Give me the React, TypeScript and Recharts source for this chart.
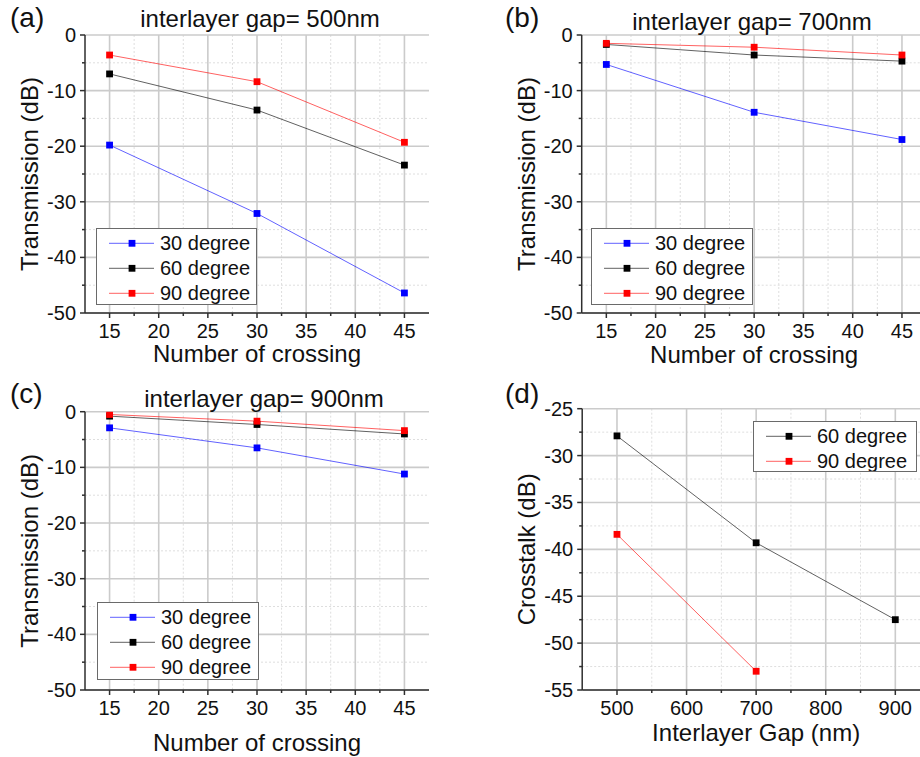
import React from 'react';
import { LineChart, Line, XAxis, YAxis, CartesianGrid, Legend, Label } from 'recharts';

// ---------- data ----------
const crossings = [15, 30, 45];
const gap500_30 = [-19.8, -32.1, -46.4];
const gap500_60 = [-7.0, -13.5, -23.4];
const gap500_90 = [-3.6, -8.4, -19.3];
const gap700_30 = [-5.3, -13.9, -18.8];
const gap700_60 = [-1.7, -3.6, -4.7];
const gap700_90 = [-1.5, -2.2, -3.6];
const gap900_30 = [-2.9, -6.5, -11.2];
const gap900_60 = [-0.8, -2.3, -4.0];
const gap900_90 = [-0.5, -1.7, -3.4];
const gaps = [500, 700, 900];
const crosstalk_60 = [-27.9, -39.3, -47.5];
const crosstalk_90: (number | null)[] = [-38.4, -53.0, null];

// ---------- ticks ----------
const crossMajor = [15, 20, 25, 30, 35, 40, 45];
const crossMinor = [17.5, 22.5, 27.5, 32.5, 37.5, 42.5];
const transMajor = [0, -10, -20, -30, -40, -50];
const transMinor = [-5, -15, -25, -35, -45];
const gapMajor = [500, 600, 700, 800, 900];
const gapMinor = [550, 650, 750, 850];
const xtMajor = [-25, -30, -35, -40, -45, -50, -55];
const xtMinor = [-27.5, -32.5, -37.5, -42.5, -47.5, -52.5];

const titles = ['interlayer gap= 500nm', 'interlayer gap= 700nm', 'interlayer gap= 900nm'];
const panelTags = ['(a)', '(b)', '(c)', '(d)'];

type Series = { key: string; name: string; color: string };
const series3: Series[] = [
  { key: 's30', name: '30 degree', color: '#0000ff' },
  { key: 's60', name: '60 degree', color: '#000000' },
  { key: 's90', name: '90 degree', color: '#ff0000' },
];
const series2: Series[] = [
  { key: 's60', name: '60 degree', color: '#000000' },
  { key: 's90', name: '90 degree', color: '#ff0000' },
];

const buildTrans = (a: number[], b: number[], c: number[]) =>
  crossings.map((x, i) => ({ x, s30: a[i], s60: b[i], s90: c[i] }));
const dataA = buildTrans(gap500_30, gap500_60, gap500_90);
const dataB = buildTrans(gap700_30, gap700_60, gap700_90);
const dataC = buildTrans(gap900_30, gap900_60, gap900_90);
const dataD = gaps.map((x, i) => ({ x, s60: crosstalk_60[i], s90: crosstalk_90[i] }));

// ---------- styles ----------
const FONT = '"Liberation Sans", Arial, Helvetica, sans-serif';
const FRAME = '#2e2e2e';
const TEXT = '#111111';
const LINE_OPACITY = 0.62;
const MARK = 6.8;

const makeXTick = (major: number[], showLabel: boolean) => (props: any) => {
  const { x, y, payload } = props;
  const isMajor = major.includes(payload.value);
  const len = isMajor ? 5 : 3;
  return (
    <g>
      <line x1={x} x2={x} y1={y} y2={y + len} stroke={FRAME} strokeWidth={1.5} />
      {showLabel && isMajor && (
        <text x={x} y={y + 25} textAnchor="middle" fontSize={20} fontFamily={FONT} fill={TEXT}>
          {payload.value}
        </text>
      )}
    </g>
  );
};

const makeYTick = (major: number[], showLabel: boolean) => (props: any) => {
  const { x, y, payload } = props;
  const isMajor = major.includes(payload.value);
  const len = isMajor ? 5 : 3;
  return (
    <g>
      <line x1={x} x2={x - len} y1={y} y2={y} stroke={FRAME} strokeWidth={1.5} />
      {showLabel && isMajor && (
        <text x={x - 9} y={y} dy="0.35em" textAnchor="end" fontSize={20} fontFamily={FONT} fill={TEXT}>
          {payload.value}
        </text>
      )}
    </g>
  );
};

const squareDot = (color: string) => (props: any) => {
  const { cx, cy, index } = props;
  if (cx == null || cy == null || Number.isNaN(cy)) return <g key={`n${index}`} />;
  return <rect key={`d${index}`} x={cx - MARK / 2} y={cy - MARK / 2} width={MARK} height={MARK} fill={color} />;
};

type Box = { x: number; y: number; w: number; h: number };

const legendContent = (box: Box) => (props: any) => {
  const payload = props.payload || [];
  return (
    <div style={{ width: box.w, height: box.h, border: '1px solid #6a6a6a', boxSizing: 'border-box', background: '#fff' }}>
      <svg width={box.w - 2} height={box.h - 2} style={{ display: 'block' }}>
        {payload.map((e: any, i: number) => {
          const cy = 14.3 + i * 25;
          return (
            <g key={i}>
              <line x1={12} x2={57} y1={cy} y2={cy} stroke={e.color} strokeOpacity={LINE_OPACITY} strokeWidth={1} />
              <rect x={35 - MARK / 2} y={cy - MARK / 2} width={MARK} height={MARK} fill={e.color} />
              <text x={63} y={cy} dy="0.35em" fontSize={20} fontFamily={FONT} fill={TEXT}>
                {e.value}
              </text>
            </g>
          );
        })}
      </svg>
    </div>
  );
};

type PanelProps = {
  left: number;
  top: number;
  width: number;
  height: number;
  margin: { top: number; right: number; bottom: number; left: number };
  yAxisWidth: number;
  xAxisHeight: number;
  data: any[];
  series: Series[];
  xDomain: [number, number];
  xMajor: number[];
  xMinor: number[];
  yDomain: [number, number];
  yMajor: number[];
  yMinor: number[];
  xLabel: string;
  yLabel: string;
  xLabelDy: number;
  legend: Box;
};

function Panel(p: PanelProps) {
  const axisLine = { stroke: FRAME, strokeWidth: 1.5 };
  const xTicks = [...p.xMajor, ...p.xMinor].sort((a, b) => a - b);
  const yTicks = [...p.yMajor, ...p.yMinor].sort((a, b) => a - b);
  return (
    <div style={{ position: 'absolute', left: p.left, top: p.top, width: p.width, height: p.height }}>
      <LineChart width={p.width} height={p.height} data={p.data} margin={p.margin}>
        <CartesianGrid
          verticalValues={p.xMinor}
          horizontalValues={p.yMinor}
          stroke="#dedede"
          strokeDasharray="2 2"
          strokeWidth={1}
        />
        <CartesianGrid verticalValues={p.xMajor} horizontalValues={p.yMajor} stroke="#cbcbcb" strokeWidth={1.6} />
        <XAxis
          dataKey="x"
          type="number"
          domain={p.xDomain}
          allowDataOverflow
          ticks={xTicks}
          interval={0}
          tickSize={0}
          tickMargin={0}
          tickLine={false}
          axisLine={axisLine}
          height={p.xAxisHeight}
          tick={makeXTick(p.xMajor, true)}
        >
          <Label
            content={(lp: any) => {
              const vb = lp.viewBox;
              return (
                <text x={vb.x + vb.width / 2} y={vb.y + p.xLabelDy} textAnchor="middle" fontSize={24} fontFamily={FONT} fill={TEXT}>
                  {p.xLabel}
                </text>
              );
            }}
          />
        </XAxis>
        <XAxis
          xAxisId="top"
          orientation="top"
          dataKey="x"
          type="number"
          domain={p.xDomain}
          allowDataOverflow
          ticks={xTicks}
          interval={0}
          tickSize={0}
          tickMargin={0}
          tickLine={false}
          axisLine={axisLine}
          height={0}
          tick={makeXTick(p.xMajor, false)}
        />
        <YAxis
          type="number"
          domain={p.yDomain}
          allowDataOverflow
          ticks={yTicks}
          interval={0}
          tickSize={0}
          tickMargin={0}
          tickLine={false}
          axisLine={axisLine}
          width={p.yAxisWidth}
          tick={makeYTick(p.yMajor, true)}
        >
          <Label
            content={(lp: any) => {
              const vb = lp.viewBox;
              const cx = vb.x + vb.width - 47;
              const cy = vb.y + vb.height / 2;
              return (
                <text
                  x={cx}
                  y={cy}
                  transform={`rotate(-90, ${cx}, ${cy})`}
                  textAnchor="middle"
                  fontSize={24}
                  fontFamily={FONT}
                  fill={TEXT}
                >
                  {p.yLabel}
                </text>
              );
            }}
          />
        </YAxis>
        <YAxis
          yAxisId="right"
          orientation="right"
          type="number"
          domain={p.yDomain}
          allowDataOverflow
          ticks={yTicks}
          interval={0}
          tickSize={0}
          tickMargin={0}
          tickLine={false}
          axisLine={axisLine}
          width={0}
          tick={makeYTick(p.yMajor, false)}
        />
        {p.series.map((s) => (
          <Line
            key={s.key}
            type="linear"
            dataKey={s.key}
            name={s.name}
            stroke={s.color}
            strokeOpacity={LINE_OPACITY}
            strokeWidth={1}
            dot={squareDot(s.color)}
            activeDot={false}
            isAnimationActive={false}
          />
        ))}
        <Legend
          layout="vertical"
          align="center"
          verticalAlign="middle"
          content={legendContent(p.legend)}
          wrapperStyle={{ left: p.legend.x, top: p.legend.y, width: p.legend.w, height: p.legend.h }}
        />
      </LineChart>
    </div>
  );
}

export default function App() {
  return (
    <div
      style={{
        position: 'absolute',
        left: 0,
        top: 0,
        width: 920,
        height: 757,
        overflow: 'hidden',
        background: '#ffffff',
      }}
    >
      <Panel
        left={0}
        top={0}
        width={460}
        height={378}
        margin={{ top: 35, right: 31, bottom: 0, left: 0 }}
        yAxisWidth={85}
        xAxisHeight={65}
        data={dataA}
        series={series3}
        xDomain={[12.5, 47.5]}
        xMajor={crossMajor}
        xMinor={crossMinor}
        yDomain={[-50, 0]}
        yMajor={transMajor}
        yMinor={transMinor}
        xLabel="Number of crossing"
        yLabel="Transmission (dB)"
        xLabelDy={49}
        legend={{ x: 96, y: 228, w: 161, h: 77 }}
      />
      <Panel
        left={460}
        top={0}
        width={480}
        height={378}
        margin={{ top: 35, right: 13.4, bottom: 0, left: 0 }}
        yAxisWidth={121.7}
        xAxisHeight={65}
        data={dataB}
        series={series3}
        xDomain={[12.5, 47.5]}
        xMajor={crossMajor}
        xMinor={crossMinor}
        yDomain={[-50, 0]}
        yMajor={transMajor}
        yMinor={transMinor}
        xLabel="Number of crossing"
        yLabel="Transmission (dB)"
        xLabelDy={49.5}
        legend={{ x: 131, y: 228, w: 162, h: 77 }}
      />
      <Panel
        left={0}
        top={378}
        width={460}
        height={379}
        margin={{ top: 33.7, right: 31, bottom: 0, left: 0 }}
        yAxisWidth={85}
        xAxisHeight={67}
        data={dataC}
        series={series3}
        xDomain={[12.5, 47.5]}
        xMajor={crossMajor}
        xMinor={crossMinor}
        yDomain={[-50, 0]}
        yMajor={transMajor}
        yMinor={transMinor}
        xLabel="Number of crossing"
        yLabel="Transmission (dB)"
        xLabelDy={61}
        legend={{ x: 97, y: 224, w: 162, h: 78 }}
      />
      <Panel
        left={460}
        top={378}
        width={480}
        height={379}
        margin={{ top: 30.7, right: 9.9, bottom: 0, left: 0 }}
        yAxisWidth={122.2}
        xAxisHeight={67}
        data={dataD}
        series={series2}
        xDomain={[450, 950]}
        xMajor={gapMajor}
        xMinor={gapMinor}
        yDomain={[-55, -25]}
        yMajor={xtMajor}
        yMinor={xtMinor}
        xLabel="Interlayer Gap (nm)"
        yLabel="Crosstalk (dB)"
        xLabelDy={50.7}
        legend={{ x: 293, y: 43, w: 164, h: 51 }}
      />
      <svg
        width={920}
        height={757}
        style={{ position: 'absolute', left: 0, top: 0, pointerEvents: 'none' }}
        fontFamily={FONT}
        fill={TEXT}
      >
        <text x={10} y={27} fontSize={28}>{panelTags[0]}</text>
        <text x={505} y={27} fontSize={28}>{panelTags[1]}</text>
        <text x={10} y={403} fontSize={28}>{panelTags[2]}</text>
        <text x={505} y={403} fontSize={28}>{panelTags[3]}</text>
        <text x={260} y={27} fontSize={24} textAnchor="middle">{titles[0]}</text>
        <text x={752} y={30} fontSize={24} textAnchor="middle">{titles[1]}</text>
        <text x={264} y={407} fontSize={24} textAnchor="middle">{titles[2]}</text>
      </svg>
    </div>
  );
}
